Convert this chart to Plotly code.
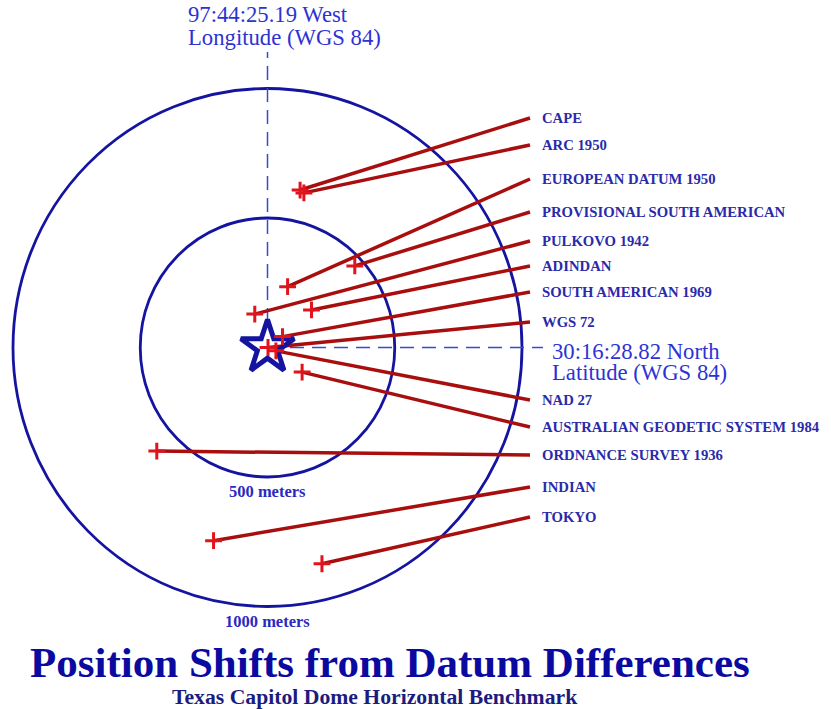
import plotly.graph_objects as go

# ---------------- data (metres, east / north of the WGS 84 benchmark) ----------------
datums = [
    "CAPE", "ARC 1950", "EUROPEAN DATUM 1950", "PROVISIONAL SOUTH AMERICAN",
    "PULKOVO 1942", "ADINDAN", "SOUTH AMERICAN 1969", "WGS 72", "NAD 27",
    "AUSTRALIAN GEODETIC SYSTEM 1984", "ORDNANCE SURVEY 1936", "INDIAN", "TOKYO",
]
east_m = [128, 143, 79, 343, -50, 173, 59, 2, 33, 136, -435, -212, 214]
north_m = [608, 597, 235, 315, 129, 145, 42, 0, -13, -95, -400, -746, -835]
ring_radii_m = [500, 1000]
ring_labels = ["500 meters", "1000 meters"]
lon_label = ["97:44:25.19 West", "Longitude (WGS 84)"]
lat_label = ["30:16:28.82 North", "Latitude (WGS 84)"]
title_text = "Position Shifts from Datum Differences"
subtitle_text = "Texas Capitol Dome Horizontal Benchmark"

# ---------------- layout geometry ----------------
W, H = 831, 709
CX, CY = 267.5, 347.5          # benchmark position in the picture (px)
SX, SY = 0.2545, 0.259         # px per metre
label_rows_px = [118, 145, 179, 212, 241, 266, 292, 322, 400, 427, 455, 487, 517]
LEADER_END_PX = 530
LABEL_X_PX = 540


def mx(px):
    return (px - CX) / SX


def my(py):
    return (CY - py) / SY


def pxp(px):
    return px / W


def pyp(py):
    return 1 - py / H


BLUE = "#1414a0"
TEXTBLUE = "#2a2aaa"
LINERED = "#a80e0e"
CROSSRED = "#e0141c"

fig = go.Figure()

# leader lines
lx, ly = [], []
for e, n, row in zip(east_m, north_m, label_rows_px):
    lx += [e, mx(LEADER_END_PX), None]
    ly += [n, my(row), None]
fig.add_trace(go.Scatter(x=lx, y=ly, mode="lines",
                         line=dict(color=LINERED, width=3.5),
                         hoverinfo="skip", showlegend=False))

# benchmark star
fig.add_trace(go.Scatter(x=[0], y=[0], mode="markers",
                         marker=dict(symbol="star-open", size=40, color=BLUE,
                                     line=dict(color=BLUE, width=5)),
                         hoverinfo="skip", showlegend=False))

# datum positions
fig.add_trace(go.Scatter(x=east_m, y=north_m, mode="markers", text=datums,
                         marker=dict(symbol="cross-thin-open", size=12,
                                     color=CROSSRED,
                                     line=dict(color=CROSSRED, width=3)),
                         hoverinfo="text", showlegend=False))

shapes = []
for r in ring_radii_m:
    shapes.append(dict(type="circle", xref="x", yref="y", x0=-r, x1=r, y0=-r, y1=r,
                       line=dict(color=BLUE, width=2.8), layer="below"))
# crosshair
shapes.append(dict(type="line", xref="x", yref="y", x0=0, x1=0, y0=my(322), y1=my(52),
                   line=dict(color="#3a48d0", width=1.5, dash="14px,8px"), layer="below"))
shapes.append(dict(type="line", xref="x", yref="y", x0=mx(290), x1=mx(543), y0=0, y1=0,
                   line=dict(color="#3a48d0", width=1.5, dash="14px,8px"), layer="below"))

serif = "Liberation Serif, Times New Roman, serif"
ann = []
for name, row in zip(datums, label_rows_px):
    ann.append(dict(x=mx(LABEL_X_PX), y=my(row), xref="x", yref="y",
                    text="<b>%s</b>" % name, showarrow=False,
                    xanchor="left", yanchor="middle",
                    font=dict(family=serif, size=14.7, color=TEXTBLUE)))
# ring labels
for r, t in zip(ring_radii_m, ring_labels):
    ann.append(dict(x=0, y=-r, xref="x", yref="y", text="<b>%s</b>" % t,
                    showarrow=False, xanchor="center", yanchor="top", yshift=-3,
                    font=dict(family=serif, size=16.5, color="#2a2ac0")))
# lon / lat labels
for i, t in enumerate(lon_label):
    ann.append(dict(x=pxp(186), y=pyp(15 + 22 * i), xref="paper", yref="paper",
                    text=t, showarrow=False, xanchor="left", yanchor="middle",
                    font=dict(family=serif, size=22.7, color="#2e32d4")))
for i, t in enumerate(lat_label):
    ann.append(dict(x=pxp(550), y=pyp(351 + 22 * i), xref="paper", yref="paper",
                    text=t, showarrow=False, xanchor="left", yanchor="middle",
                    font=dict(family=serif, size=22.7, color="#2e32d4")))
# titles
ann.append(dict(x=pxp(390), y=pyp(662), xref="paper", yref="paper",
                text="<b>%s</b>" % title_text, showarrow=False,
                xanchor="center", yanchor="middle",
                font=dict(family=serif, size=43, color="#0a0aa0")))
ann.append(dict(x=pxp(375), y=pyp(697), xref="paper", yref="paper",
                text="<b>%s</b>" % subtitle_text, showarrow=False,
                xanchor="center", yanchor="middle",
                font=dict(family=serif, size=21.7, color="#1c1c80")))

fig.update_layout(
    width=W, height=H, autosize=False,
    margin=dict(l=0, r=0, t=0, b=0),
    paper_bgcolor="white", plot_bgcolor="white",
    xaxis=dict(range=[mx(0), mx(W)], visible=False, fixedrange=True),
    yaxis=dict(range=[my(H), my(0)], visible=False, fixedrange=True),
    shapes=shapes, annotations=ann, showlegend=False,
)

fig.write_html("out.html", config={"displayModeBar": False},
               post_script="document.body.style.margin='0';"
                           "document.body.style.overflow='hidden';")
